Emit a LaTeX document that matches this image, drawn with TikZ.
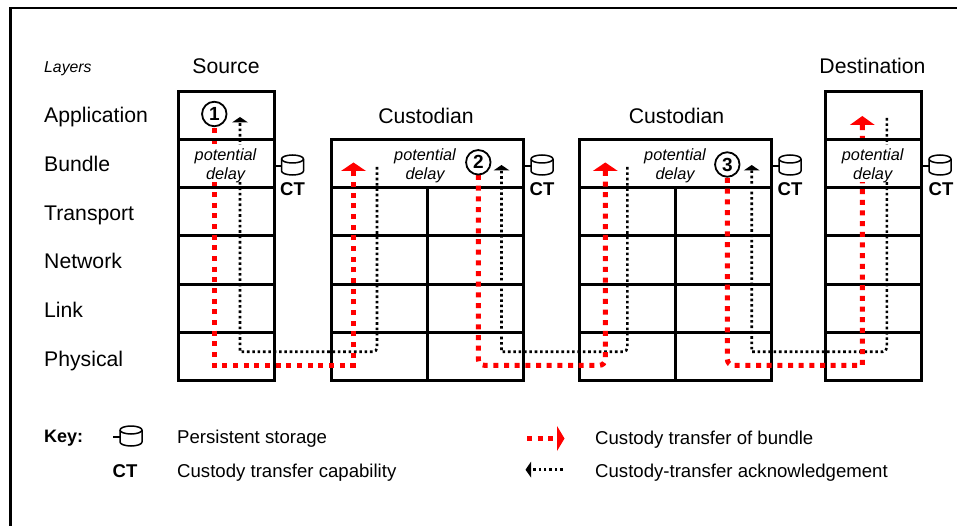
\documentclass[tikz,border=0pt]{standalone}
\usepackage{fontspec}
\setmainfont{Liberation Sans}
\usetikzlibrary{arrows.meta}
\tikzset{
  x=1pt,y=-1pt,
  grid/.style={draw=black,line width=3pt},
  sep/.style={draw=black,line width=3pt},
  redpath/.style={draw=red,line width=5pt,dash pattern=on 5pt off 5.67pt,line join=miter},
  ackpath/.style={draw=black,line width=2.6pt,dash pattern=on 2.6pt off 2.75pt},
  redhead/.style={fill=red,draw=none},
  ackhead/.style={fill=black,draw=none},
  lab/.style={inner sep=0pt,anchor=base west,font=\fontsize{21.2}{24}\selectfont},
  title/.style={inner sep=0pt,anchor=base,font=\fontsize{21.2}{24}\selectfont},
  keytext/.style={inner sep=0pt,anchor=base west,font=\fontsize{18.6}{22}\selectfont},
  ctlabel/.style={inner sep=0pt,font=\bfseries\fontsize{18.5}{20}\selectfont},
  delay/.style={inner sep=0pt,align=center,font=\itshape\fontsize{16.3}{19}\selectfont},
  num/.style={circle,draw=black,line width=1.8pt,fill=white,minimum size=24.5pt,inner sep=0pt,font=\bfseries\fontsize{19}{20}\selectfont},
  stub/.style={draw=black,line width=2.2pt},
  disk/.style={draw=black,line width=1.5pt,fill=white}
}
\newcommand{\diskat}[2]{%
  \draw[disk] (#1,#2-6) -- (#1,#2+6) arc[start angle=180,end angle=0,x radius=11,y radius=4]
     -- (#1+22,#2-6) arc[start angle=0,end angle=-180,x radius=11,y radius=4];
  \draw[disk,fill=none] (#1,#2-6) arc[start angle=180,end angle=0,x radius=11,y radius=4];
}
\begin{document}
\begin{tikzpicture}
\useasboundingbox (0,0) rectangle (957,526);
\fill[white] (0,0) rectangle (957,526);
% outer frame
\coordinate (fa) at (10.5,526);
\coordinate (fb) at (10.5,8);
\coordinate (fc) at (957,8);
\draw[black,line width=2.3pt] (fa) -- (fb) -- (fc);

% layer labels
\node[inner sep=0pt,anchor=base west,font=\itshape\fontsize{15.8}{18}\selectfont] (layers) at (44,73) {Layers};
\node[lab] (lapp) at (44,123) {Application};
\node[lab] (lbun) at (44,172) {Bundle};
\node[lab] (ltra) at (44,221) {Transport};
\node[lab] (lnet) at (44,269) {Network};
\node[lab] (llin) at (44,317) {Link};
\node[lab] (lphy) at (44,366) {Physical};
\node[title] (tsrc) at (226,74) {Source};
\node[title] (tc1) at (426,124) {Custodian};
\node[title] (tc2) at (676.5,124) {Custodian};
\node[title] (tdst) at (872.5,74) {Destination};

% stacks
\draw[grid] (178,92) rectangle (274,380);
\foreach \y in {140,188,236,284,332} \draw[sep] (178,\y) -- (274,\y);
\draw[grid] (331,140) rectangle (523,380);
\foreach \y in {188,236,284,332} \draw[sep] (331,\y) -- (523,\y);
\draw[sep] (427,188) -- (427,380);
\draw[grid] (579,140) rectangle (771,380);
\foreach \y in {188,236,284,332} \draw[sep] (579,\y) -- (771,\y);
\draw[sep] (675,188) -- (675,380);
\draw[grid] (825,92) rectangle (921,380);
\foreach \y in {140,188,236,284,332} \draw[sep] (825,\y) -- (921,\y);

% path waypoints
\coordinate (r1a) at (214.3,128);  \coordinate (r1b) at (214.3,365.3);
\coordinate (r1c) at (353.5,365.3);  \coordinate (r1d) at (353.5,171);
\coordinate (k1a) at (377,167);  \coordinate (k1b) at (377,351.7);
\coordinate (k1c) at (240,351.7);  \coordinate (k1d) at (240,122.5);
\coordinate (r2a) at (478.3,175);  \coordinate (r2b) at (478.3,365.3);
\coordinate (r2c) at (605.3,365.3);  \coordinate (r2d) at (605.3,171);
\coordinate (k2a) at (627.3,167);  \coordinate (k2b) at (627.3,351.7);
\coordinate (k2c) at (501.5,351.7);  \coordinate (k2d) at (501.5,170.5);
\coordinate (r3a) at (727.3,178);  \coordinate (r3b) at (727.3,365.3);
\coordinate (r3c) at (862.3,365.3);  \coordinate (r3d) at (862.3,125);
\coordinate (k3a) at (886.8,118);  \coordinate (k3b) at (886.8,351.7);
\coordinate (k3c) at (751.7,351.7);  \coordinate (k3d) at (751.7,170.5);

\draw[ackpath] (k1a) [rounded corners=4pt] -- (k1b) [sharp corners] -- (k1c) -- (k1d);
\draw[ackpath] (k2a) [rounded corners=4pt] -- (k2b) [sharp corners] -- (k2c) -- (k2d);
\draw[ackpath] (k3a) [rounded corners=4pt] -- (k3b) [sharp corners] -- (k3c) -- (k3d);
\draw[redpath] (r1a) -- (r1b) -- (r1c) -- (r1d);
\draw[redpath,rounded corners=6pt] (r2a) -- (r2b) -- (r2c) -- (r2d);
\draw[redpath] (r3a) [rounded corners=6pt] -- (r3b) [sharp corners] -- (r3c) -- (r3d);

% arrow heads
\fill[redhead] (r1d) ++(-12.5,0) -- ++(12.5,-8.5) -- ++(12.5,8.5) -- cycle;
\fill[redhead] (r2d) ++(-12.5,0) -- ++(12.5,-8.5) -- ++(12.5,8.5) -- cycle;
\fill[redhead] (r3d) ++(-12.5,0) -- ++(12.5,-9) -- ++(12.5,9) -- cycle;
\fill[ackhead] (k1d) ++(-8,0) -- ++(8,-5.5) -- ++(8,5.5) -- cycle;
\fill[ackhead] (k2d) ++(-8,0) -- ++(8,-5.5) -- ++(8,5.5) -- cycle;
\fill[ackhead] (k3d) ++(-8,0) -- ++(8,-5.5) -- ++(8,5.5) -- cycle;

% potential delay labels (the paths pause behind the text)
\fill[white] (196,145) rectangle (256,182.5);
\fill[white] (843,145) rectangle (903,182.5);
\node[delay] (d1) at (225.5,165.5) {potential\\delay};
\node[delay] (d2) at (425,165.5) {potential\\delay};
\node[delay] (d3) at (675,165.5) {potential\\delay};
\node[delay] (d4) at (872.7,165.5) {potential\\delay};
\foreach \y in {140,188} \draw[sep] (178,\y) -- (274,\y);
\foreach \y in {140,188} \draw[sep] (825,\y) -- (921,\y);

% numbered circles
\node[num] (n1) at (214.3,114) {1};
\node[num] (n2) at (478.3,162.3) {2};
\node[num] (n3) at (727.3,164.5) {3};

% storage
\foreach \x/\sx in {274/281.5,523/531,771/779,921/929}{
  \draw[stub] (\x,165.7) -- (\sx,165.7);
  \diskat{\sx}{165}
}
\node[ctlabel] (ct1) at (292.5,189.5) {CT};
\node[ctlabel] (ct2) at (542,189.5) {CT};
\node[ctlabel] (ct3) at (790,189.5) {CT};
\node[ctlabel] (ct4) at (941,189.5) {CT};

% key
\node[inner sep=0pt,anchor=base west,font=\bfseries\fontsize{18}{20}\selectfont] (key) at (44,442) {Key:};
\draw[stub] (113,437) -- (120,437);
\diskat{120}{436}
\node[ctlabel] (kct) at (125,471.5) {CT};
\node[keytext] (kt1) at (177,443) {Persistent storage};
\node[keytext] (kt2) at (177,477) {Custody transfer capability};
\coordinate (ka) at (527,438.5);
\coordinate (kb) at (558,438.5);
\draw[redpath] (ka) -- (kb);
\fill[redhead] (557,426) -- (564.5,438.5) -- (557,451) -- cycle;
\node[keytext] (kt3) at (595,444) {Custody transfer of bundle};
\coordinate (kc) at (562.5,469.7);
\coordinate (kd) at (531,469.7);
\draw[ackpath] (kc) -- (kd);
\fill[ackhead] (531,461.7) -- (525.5,469.7) -- (531,477.5) -- cycle;
\node[keytext] (kt4) at (595,477) {Custody-transfer acknowledgement};
\end{tikzpicture}
\end{document}
